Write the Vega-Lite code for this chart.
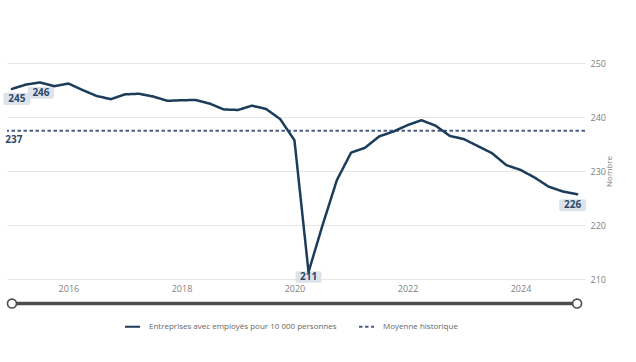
{
  "$schema": "https://vega.github.io/schema/vega-lite/v6.json",
  "width": 578,
  "height": 216,
  "autosize": {"type": "none"},
  "padding": {"left": 7, "top": 63, "right": 51, "bottom": 83},
  "background": "white",
  "datasets": {
    "serie": [
      {"date": "2015-01-01", "value": 245.2},
      {"date": "2015-04-01", "value": 246.0},
      {"date": "2015-07-01", "value": 246.4},
      {"date": "2015-10-01", "value": 245.7},
      {"date": "2016-01-01", "value": 246.2},
      {"date": "2016-04-01", "value": 245.0},
      {"date": "2016-07-01", "value": 243.9},
      {"date": "2016-10-01", "value": 243.3},
      {"date": "2017-01-01", "value": 244.2},
      {"date": "2017-04-01", "value": 244.3},
      {"date": "2017-07-01", "value": 243.8},
      {"date": "2017-10-01", "value": 243.0},
      {"date": "2018-01-01", "value": 243.1},
      {"date": "2018-04-01", "value": 243.15},
      {"date": "2018-07-01", "value": 242.5},
      {"date": "2018-10-01", "value": 241.4},
      {"date": "2019-01-01", "value": 241.3},
      {"date": "2019-04-01", "value": 242.1},
      {"date": "2019-07-01", "value": 241.5},
      {"date": "2019-10-01", "value": 239.6},
      {"date": "2020-01-01", "value": 235.7},
      {"date": "2020-04-01", "value": 211.3},
      {"date": "2020-07-01", "value": 220.0},
      {"date": "2020-10-01", "value": 228.3},
      {"date": "2021-01-01", "value": 233.4},
      {"date": "2021-04-01", "value": 234.3},
      {"date": "2021-07-01", "value": 236.4},
      {"date": "2021-10-01", "value": 237.3},
      {"date": "2022-01-01", "value": 238.5},
      {"date": "2022-04-01", "value": 239.4},
      {"date": "2022-07-01", "value": 238.4},
      {"date": "2022-10-01", "value": 236.5},
      {"date": "2023-01-01", "value": 235.9},
      {"date": "2023-04-01", "value": 234.6},
      {"date": "2023-07-01", "value": 233.3},
      {"date": "2023-10-01", "value": 231.1},
      {"date": "2024-01-01", "value": 230.2},
      {"date": "2024-04-01", "value": 228.8},
      {"date": "2024-07-01", "value": 227.1},
      {"date": "2024-10-01", "value": 226.2},
      {"date": "2025-01-01", "value": 225.7}
    ],
    "moyenne": [{"value": 237.45}]
  },
  "data": {"name": "serie", "format": {"parse": {"date": "date"}}},
  "layer": [
    {
      "data": {"name": "moyenne"},
      "mark": {"type": "rule", "strokeWidth": 2},
      "encoding": {
        "y": {
          "field": "value", "type": "quantitative", "title": "Nombre",
          "scale": {"domain": [210, 250], "nice": false, "zero": false},
          "axis": {
            "orient": "right", "values": [210, 220, 230, 240, 250], "grid": true,
            "gridColor": "#e6e6e6", "gridWidth": 1, "domain": false, "ticks": false,
            "labelPadding": 5, "labelFontSize": 9, "labelColor": "#808080", "labelFont": "Open Sans",
            "title": "Nombre", "titleAngle": 270, "titleFontSize": 8, "titleFontWeight": "normal",
            "titleColor": "#808080", "titleFont": "Open Sans", "titlePadding": 8
          }
        },
        "color": {
          "datum": "Moyenne historique",
          "scale": {"domain": ["Entreprises avec employés pour 10 000 personnes", "Moyenne historique"], "range": ["#1c3d5a", "#4d5d80"]},
          "legend": {"title": null}
        },
        "strokeDash": {
          "datum": "Moyenne historique",
          "scale": {"domain": ["Entreprises avec employés pour 10 000 personnes", "Moyenne historique"], "range": [[1, 0], [3.5, 2.5]]},
          "legend": {"title": null}
        }
      }
    },
    {
      "transform": [{"filter": {"field": "value", "equal": 245.2}}],
      "encoding": {
        "x": {"field": "date", "type": "temporal", "title": null},
        "y": {"field": "value", "type": "quantitative", "title": "Nombre"}
      },
      "layer": [
        {"mark": {"type": "point", "shape": "M-0.85,-0.45H0.85Q1,-0.45 1,-0.3V0.3Q1,0.45 0.85,0.45H-0.85Q-1,0.45 -1,0.3V-0.3Q-1,-0.45 -0.85,-0.45Z", "size": 729, "filled": true, "fill": "#dde3ea", "opacity": 1, "strokeWidth": 0, "xOffset": 5, "yOffset": 10}},
        {"mark": {"type": "text", "dx": 5, "dy": 10, "align": "center", "baseline": "middle", "font": "Open Sans", "fontWeight": "bold", "fontSize": 10, "color": "#2e4a68"},
         "encoding": {"text": {"field": "value", "type": "quantitative", "format": ".0f"}}}
      ]
    },
    {
      "transform": [{"filter": {"field": "value", "equal": 246.4}}],
      "encoding": {
        "x": {"field": "date", "type": "temporal", "title": null},
        "y": {"field": "value", "type": "quantitative", "title": "Nombre"}
      },
      "layer": [
        {"mark": {"type": "point", "shape": "M-0.85,-0.45H0.85Q1,-0.45 1,-0.3V0.3Q1,0.45 0.85,0.45H-0.85Q-1,0.45 -1,0.3V-0.3Q-1,-0.45 -0.85,-0.45Z", "size": 676, "filled": true, "fill": "#dde3ea", "opacity": 1, "strokeWidth": 0, "xOffset": 1, "yOffset": 10.5}},
        {"mark": {"type": "text", "dx": 1, "dy": 10.5, "align": "center", "baseline": "middle", "font": "Open Sans", "fontWeight": "bold", "fontSize": 10, "color": "#2e4a68"},
         "encoding": {"text": {"field": "value", "type": "quantitative", "format": ".0f"}}}
      ]
    },
    {
      "transform": [{"filter": {"field": "value", "equal": 211.3}}],
      "encoding": {
        "x": {"field": "date", "type": "temporal", "title": null},
        "y": {"field": "value", "type": "quantitative", "title": "Nombre"}
      },
      "layer": [
        {"mark": {"type": "point", "shape": "M-0.85,-0.45H0.85Q1,-0.45 1,-0.3V0.3Q1,0.45 0.85,0.45H-0.85Q-1,0.45 -1,0.3V-0.3Q-1,-0.45 -0.85,-0.45Z", "size": 676, "filled": true, "fill": "#dde3ea", "opacity": 1, "strokeWidth": 0, "xOffset": 0, "yOffset": 5}},
        {"mark": {"type": "text", "dx": 0, "dy": 5, "align": "center", "baseline": "middle", "font": "Open Sans", "fontWeight": "bold", "fontSize": 10, "color": "#2e4a68"},
         "encoding": {"text": {"field": "value", "type": "quantitative", "format": ".0f"}}}
      ]
    },
    {
      "transform": [{"filter": {"field": "value", "equal": 225.7}}],
      "encoding": {
        "x": {"field": "date", "type": "temporal", "title": null},
        "y": {"field": "value", "type": "quantitative", "title": "Nombre"}
      },
      "layer": [
        {"mark": {"type": "point", "shape": "M-0.85,-0.45H0.85Q1,-0.45 1,-0.3V0.3Q1,0.45 0.85,0.45H-0.85Q-1,0.45 -1,0.3V-0.3Q-1,-0.45 -0.85,-0.45Z", "size": 729, "filled": true, "fill": "#dde3ea", "opacity": 1, "strokeWidth": 0, "xOffset": -4.5, "yOffset": 11}},
        {"mark": {"type": "text", "dx": -4.5, "dy": 11, "align": "center", "baseline": "middle", "font": "Open Sans", "fontWeight": "bold", "fontSize": 10, "color": "#2e4a68"},
         "encoding": {"text": {"field": "value", "type": "quantitative", "format": ".0f"}}}
      ]
    },
    {
      "mark": {"type": "line", "strokeWidth": 2.5, "strokeJoin": "round", "strokeCap": "round"},
      "encoding": {
        "x": {
          "field": "date", "type": "temporal", "title": null,
          "scale": {"domain": [{"year": 2014, "month": 11, "date": 30}, {"year": 2025, "month": 2, "date": 21}]},
          "axis": {
            "tickCount": {"interval": "year", "step": 2}, "format": "%Y", "grid": false,
            "domain": false, "ticks": false, "labelPadding": 5, "labelFontSize": 9,
            "labelColor": "#808080", "labelFont": "Open Sans"
          }
        },
        "y": {"field": "value", "type": "quantitative", "title": "Nombre"},
        "color": {"datum": "Entreprises avec employés pour 10 000 personnes", "legend": {"title": null}},
        "strokeDash": {"datum": "Entreprises avec employés pour 10 000 personnes", "legend": {"title": null}}
      }
    },
    {
      "data": {"name": "moyenne"},
      "mark": {"type": "text", "dx": 2, "dy": 9.5, "align": "center", "baseline": "middle", "font": "Open Sans", "fontWeight": "bold", "fontSize": 10, "color": "#2e4a68"},
      "encoding": {
        "x": {"datum": {"year": 2015, "month": 1, "date": 1}, "type": "temporal", "title": null},
        "y": {"field": "value", "type": "quantitative", "title": "Nombre"},
        "text": {"field": "value", "type": "quantitative", "format": ".0f"}
      }
    },
    {
      "transform": [{"aggregate": [{"op": "min", "field": "date", "as": "debut"}, {"op": "max", "field": "date", "as": "fin"}]}],
      "mark": {"type": "rule", "strokeWidth": 3.5, "color": "#4d4d4d"},
      "encoding": {
        "x": {"field": "debut", "type": "temporal", "title": null},
        "x2": {"field": "fin"},
        "y": {"datum": 205.45, "type": "quantitative", "title": "Nombre"}
      }
    },
    {
      "transform": [
        {"aggregate": [{"op": "min", "field": "date", "as": "debut"}, {"op": "max", "field": "date", "as": "fin"}]},
        {"fold": ["debut", "fin"], "as": ["borne", "instant"]}
      ],
      "mark": {"type": "point", "shape": "circle", "size": 80, "filled": true, "fill": "white", "stroke": "#4d4d4d", "strokeWidth": 1.6, "opacity": 1},
      "encoding": {
        "x": {"field": "instant", "type": "temporal", "title": null},
        "y": {"datum": 205.45, "type": "quantitative", "title": "Nombre"}
      }
    }
  ],
  "config": {
    "view": {"stroke": null},
    "font": "Open Sans",
    "legend": {
      "orient": "none", "legendX": 117, "legendY": 255, "direction": "horizontal",
      "symbolType": "stroke", "symbolSize": 225, "symbolStrokeWidth": 1.8,
      "labelFontSize": 8, "labelColor": "#666666", "labelFont": "Open Sans",
      "labelLimit": 0, "columnPadding": 18, "labelOffset": 8
    }
  }
}
